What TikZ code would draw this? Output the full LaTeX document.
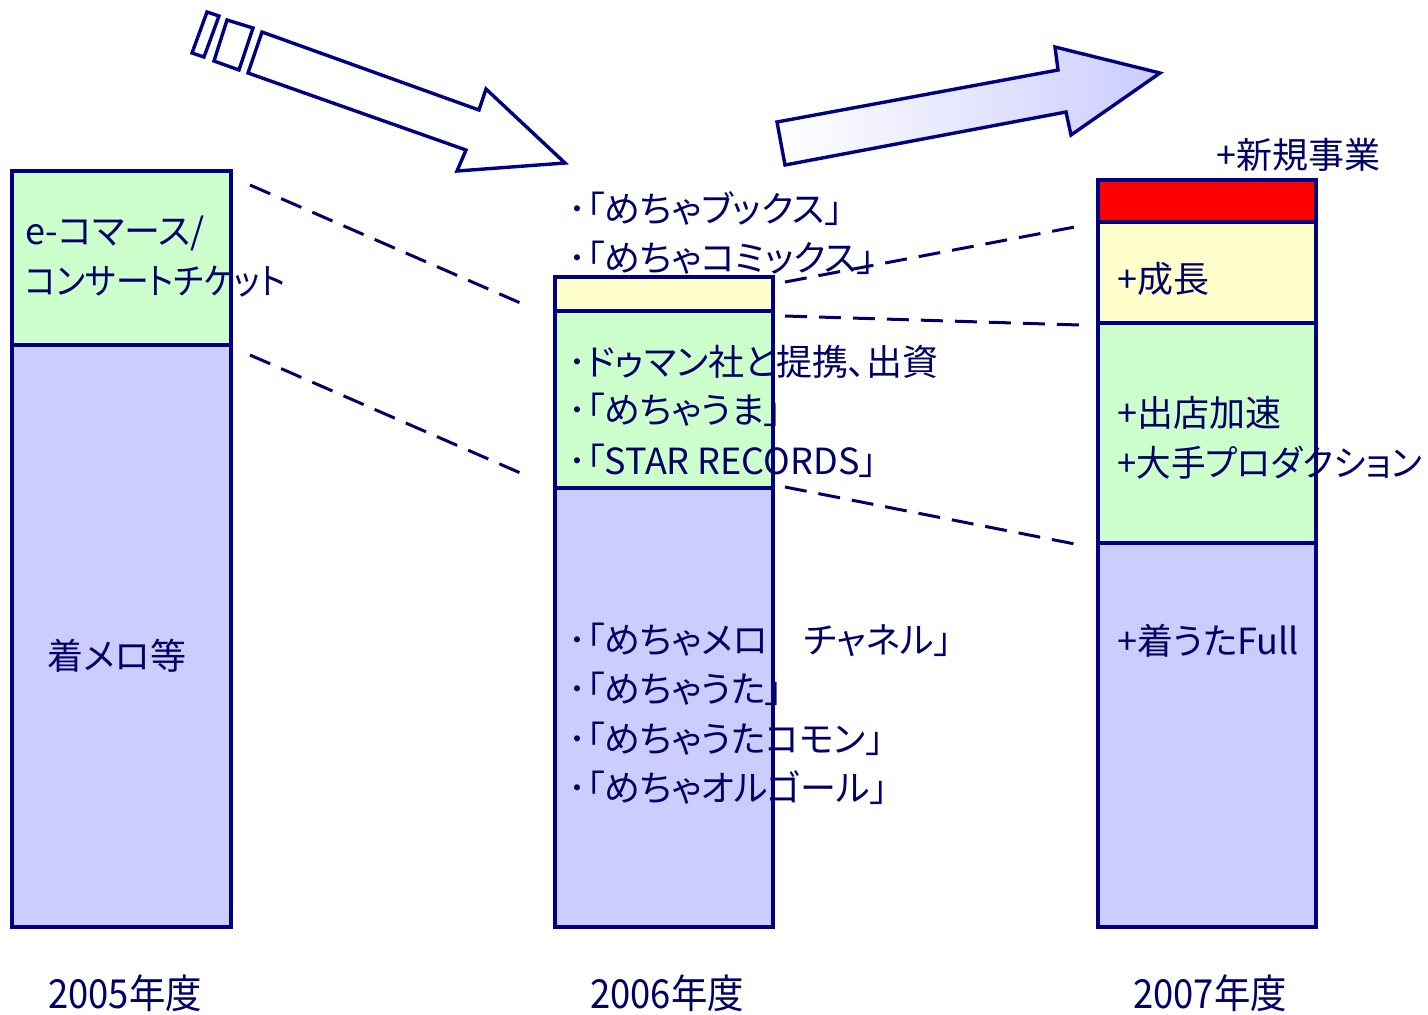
\documentclass[tikz,border=0pt]{standalone}
\usepackage{fontspec}
\setmainfont[RawFeature=+palt]{Noto Sans CJK JP}
\newfontfamily\narrowjp[RawFeature=+palt,FakeStretch=0.91]{Noto Sans CJK JP}
\newfontfamily\slimjp[RawFeature=+palt,FakeStretch=0.96]{Noto Sans CJK JP}
\definecolor{navy}{HTML}{000080}
\definecolor{ink}{HTML}{000066}
\definecolor{mint}{HTML}{CCFFCC}
\definecolor{lav}{HTML}{CCCCFF}
\definecolor{cream}{HTML}{FFFFCC}
\tikzset{
  bar/.style  = {draw=navy, line width=1.7pt},
  blk/.style  = {draw=navy, line width=1.7pt, line join=miter},
  link/.style = {draw=ink, line width=1.5pt, dash pattern=on 11pt off 6pt},
  txt/.style  = {anchor=west, inner sep=0, text=ink, font=\fontsize{18}{20}\selectfont},
  yr/.style   = {inner sep=0, text=ink, font=\narrowjp\fontsize{20}{22}\selectfont},
}

\begin{document}
\begin{tikzpicture}[x=0.5pt, y=-0.5pt]
        \useasboundingbox (0,0) rectangle (1428,1014);
        % arrows
        \draw[blk,fill=white] (262,32) -- (479,110) -- (486,89) -- (565,163) -- (457,171) -- (466,150) -- (248,73) -- cycle;
        \draw[blk,fill=white] (227,20) -- (253,28) -- (239,70) -- (214,61) -- cycle;
        \draw[blk,fill=white] (207,12) -- (219,16) -- (204,57) -- (192,53) -- cycle;
        \shade[blk,left color=white,right color=lav] (777,122) -- (1058,70) -- (1055,47) -- (1160,73) -- (1071,135) -- (1066,112) -- (785,165) -- cycle;
        % 2005
        \draw[bar,fill=mint] (12,171) rectangle (231,345);
        \draw[bar,fill=lav] (12,345) rectangle (231,927);
        % 2006
        \draw[bar,fill=cream] (555,277) rectangle (773,311);
        \draw[bar,fill=mint] (555,311) rectangle (773,488);
        \draw[bar,fill=lav] (555,488) rectangle (773,927);
        % 2007
        \draw[bar,fill=red] (1098,180) rectangle (1316,222);
        \draw[bar,fill=cream] (1098,222) rectangle (1316,323);
        \draw[bar,fill=mint] (1098,323) rectangle (1316,543);
        \draw[bar,fill=lav] (1098,543) rectangle (1316,927);
        % dashed links
        \coordinate (a1) at (250,185);
        \coordinate (a2) at (525,305);
        \coordinate (b1) at (250,355);
        \coordinate (b2) at (525,475);
        \coordinate (c1) at (785,282);
        \coordinate (c2) at (1080,226);
        \coordinate (d1) at (785,316);
        \coordinate (d2) at (1080,325);
        \coordinate (e1) at (785,487);
        \coordinate (e2) at (1080,545);
        \draw[link] (a1) -- (a2);
        \draw[link] (b1) -- (b2);
        \draw[link] (c1) -- (c2);
        \draw[link] (d1) -- (d2);
        \draw[link] (e1) -- (e2);
        % labels 2005
        \node[txt] (ecom) at (25,233) {e-コマース/};
        \node[txt] (tix) at (25,282) {\narrowjp コンサートチケット};
        \node[txt,anchor=center] (melo) at (117,656) {着メロ等};
        % labels 2006
        \node[txt] (books) at (568,209) {･「めちゃブックス」};
        \node[txt] (comics) at (568,258) {･「めちゃコミックス」};
        \node[txt] (doman) at (568,362) {･ドゥマン社と提携、出資};
        \node[txt] (uma) at (568,410) {･「めちゃうま」};
        \node[txt] (star) at (568,461) {･「STAR RECORDS」};
        \node[txt] (chan) at (568,640) {･「めちゃメロ　チャネル」};
        \node[txt] (uta) at (568,689) {･「めちゃうた」};
        \node[txt] (komon) at (568,739) {･「めちゃうたコモン」};
        \node[txt] (orgel) at (568,788) {･「めちゃオルゴール」};
        % labels 2007
        \node[txt] (new) at (1216,155) {+新規事業};
        \node[txt] (grow) at (1117,279) {+成長};
        \node[txt] (shop) at (1117,413) {+出店加速};
        \node[txt] (prod) at (1117,463) {\slimjp +大手プロダクション};
        \node[txt] (full) at (1117,641) {+着うたFull};
        % years
        \node[yr] (y05) at (125,993) {2005年度};
        \node[yr] (y06) at (667,993) {2006年度};
        \node[yr] (y07) at (1210,993) {2007年度};
\end{tikzpicture}
\end{document}
